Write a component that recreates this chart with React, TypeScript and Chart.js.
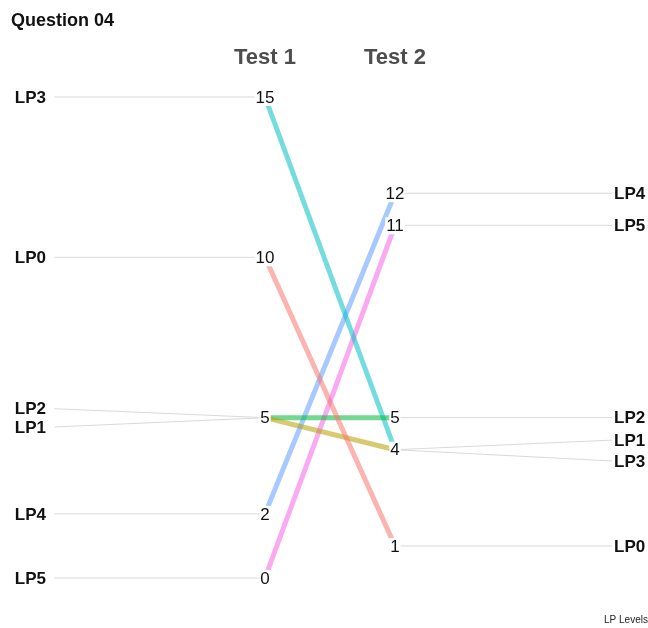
import React, { useEffect, useRef } from "react";
import { Chart, registerables } from "chart.js";
Chart.register(...registerables);

const levels = ["LP0", "LP1", "LP2", "LP3", "LP4", "LP5"];
const test1 = [10, 5, 5, 15, 2, 0];
const test2 = [1, 4, 5, 4, 12, 11];
// repelled label positions (in value units) where labels would otherwise overlap
const leftLabelPos = [10, 4.71, 5.28, 15, 2, 0];
const rightLabelPos = [1, 4.3, 5, 3.65, 12, 11];
const columns = ["Test 1", "Test 2"];
const colors = ["248,118,109", "183,159,0", "0,186,56", "0,191,196", "97,156,255", "245,100,227"];

const X_MIN = -1.0385, X_MAX = 3.9462, Y_MIN = -1.559, Y_MAX = 18.025;
const LEFT_LABEL_END = -0.62;
const RIGHT_LABEL_START = 3.67;
const LEFT_TEXT_X = -0.925;

export default function App() {
  const ref = useRef<HTMLCanvasElement>(null);
  useEffect(() => {
    const datasets: any[] = [];
    levels.forEach((lv, i) => {
      datasets.push({
        label: lv,
        data: [{ x: 1, y: test1[i] }, { x: 2, y: test2[i] }],
        borderColor: `rgba(${colors[i]},0.55)`,
        borderWidth: 5,
        pointRadius: 0,
        order: 1,
      });
    });
    levels.forEach((lv, i) => {
      datasets.push({
        label: lv + " left",
        data: [{ x: LEFT_LABEL_END, y: leftLabelPos[i] }, { x: 1, y: test1[i] }],
        borderColor: "#d9d9d9",
        borderWidth: 1,
        pointRadius: 0,
        order: 5,
      });
      datasets.push({
        label: lv + " right",
        data: [{ x: 2, y: test2[i] }, { x: RIGHT_LABEL_START, y: rightLabelPos[i] }],
        borderColor: "#d9d9d9",
        borderWidth: 1,
        pointRadius: 0,
        order: 5,
      });
    });

    const textPlugin = {
      id: "texts",
      afterDatasetsDraw(chart: any) {
        const ctx = chart.ctx;
        const xs = chart.scales.x, ys = chart.scales.y;
        ctx.save();
        ctx.textBaseline = "middle";
        ctx.font = "17px 'Liberation Sans', Arial, sans-serif";
        const drawNum = (v: number, col: number) => {
          const t = String(v);
          const px = xs.getPixelForValue(col), py = ys.getPixelForValue(v);
          const w = ctx.measureText(t).width;
          ctx.fillStyle = "#ffffff";
          ctx.fillRect(px - w / 2 - 1, py - 8, w + 2, 17);
          ctx.fillStyle = "#111";
          ctx.textAlign = "center";
          ctx.fillText(t, px, py + 1);
        };
        const seen1 = new Set<number>(), seen2 = new Set<number>();
        test1.forEach((v) => { if (!seen1.has(v)) { seen1.add(v); drawNum(v, 1); } });
        test2.forEach((v) => { if (!seen2.has(v)) { seen2.add(v); drawNum(v, 2); } });
        ctx.font = "bold 17px 'Liberation Sans', Arial, sans-serif";
        ctx.fillStyle = "#111";
        levels.forEach((lv, i) => {
          ctx.textAlign = "left";
          ctx.fillText(lv, xs.getPixelForValue(LEFT_TEXT_X), ys.getPixelForValue(leftLabelPos[i]) + 1);
          ctx.fillText(lv, xs.getPixelForValue(RIGHT_LABEL_START) + 2, ys.getPixelForValue(rightLabelPos[i]) + 1);
        });
        ctx.font = "bold 22px 'Liberation Sans', Arial, sans-serif";
        ctx.fillStyle = "#4d4d4d";
        ctx.textAlign = "center";
        columns.forEach((c, i) => ctx.fillText(c, xs.getPixelForValue(i + 1), 58));
        ctx.font = "bold 18px 'Liberation Sans', Arial, sans-serif";
        ctx.fillStyle = "#111";
        ctx.textAlign = "left";
        ctx.fillText("Question 04", 11, 21);
        ctx.font = "10px 'Liberation Sans', Arial, sans-serif";
        ctx.fillStyle = "#222";
        ctx.fillText("LP Levels", 604, 620);
        ctx.restore();
      },
    };

    const chart = new Chart(ref.current!, {
      type: "line",
      data: { datasets },
      options: {
        animation: false,
        responsive: false,
        maintainAspectRatio: false,
        layout: { padding: 0 },
        plugins: { legend: { display: false }, tooltip: { enabled: false }, title: { display: false } },
        scales: {
          x: { type: "linear", min: X_MIN, max: X_MAX, display: false },
          y: { type: "linear", min: Y_MIN, max: Y_MAX, display: false },
        },
      },
      plugins: [textPlugin],
    });
    return () => chart.destroy();
  }, []);
  return (
    <div style={{ position: "absolute", left: 0, top: 0, width: 648, height: 628, background: "#fff" }}>
      <canvas ref={ref} width={648} height={628} />
    </div>
  );
}
